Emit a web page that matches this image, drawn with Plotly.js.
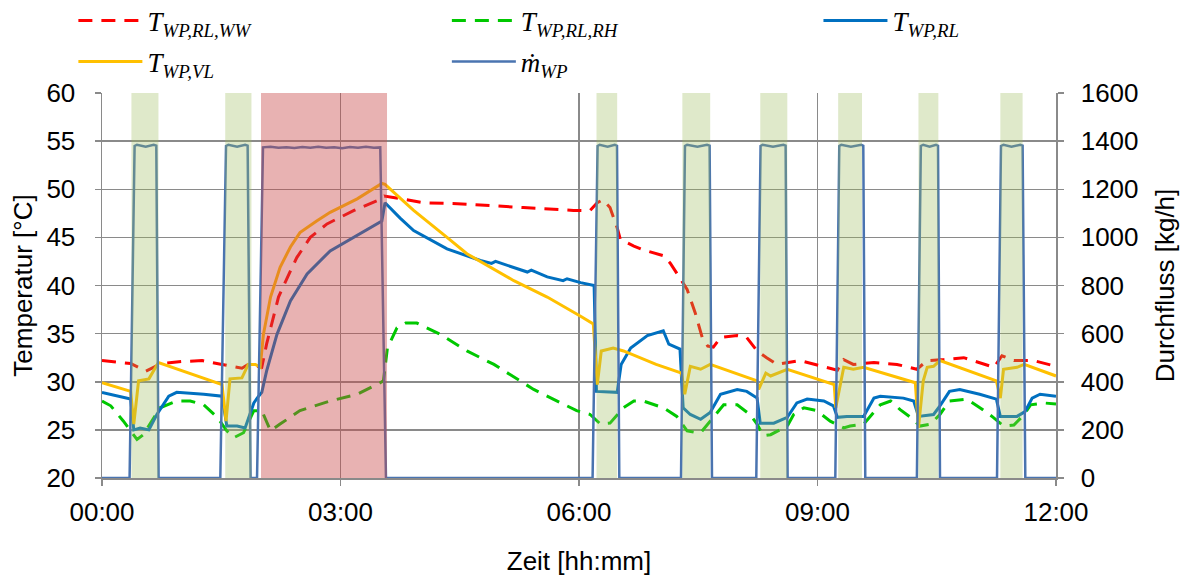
<!DOCTYPE html>
<html>
<head>
<meta charset="utf-8">
<script src="https://cdn.plot.ly/plotly-3.0.1.min.js"></script>
<style>html,body{margin:0;padding:0;background:#fff;}#chart{width:1192px;height:581px;}</style>
</head>
<body>
<div id="chart"></div>
<script>
// ---- Data (time in hours) ----
const tickVals = [0, 3, 6, 9, 12];
const tickText = ['00:00', '03:00', '06:00', '09:00', '12:00'];

// T_WP,RL,WW (red dashed)
const wwT = [0, 0.36, 0.55, 0.75, 1.0, 1.26, 1.51, 1.76, 1.84, 2.01, 2.07, 2.14, 2.22, 2.33, 2.45, 2.62, 2.83, 3.17, 3.46, 3.55, 3.63, 4.05, 4.47, 4.97, 5.30, 5.93, 6.14, 6.23, 6.30, 6.39, 6.48, 6.52, 6.69, 6.81, 7.06, 7.15, 7.25, 7.36, 7.46, 7.55, 7.62, 7.69, 7.78, 7.99, 8.11, 8.24, 8.36, 8.49, 8.78, 9.12, 9.25, 9.33, 9.45, 9.71, 10.0, 10.25, 10.38, 10.59, 10.84, 11.22, 11.32, 11.47, 11.72, 12.0];
const wwV = [32.2, 31.9, 31.1, 31.9, 32.1, 32.2, 31.8, 31.4, 31.8, 31.5, 33.9, 36.3, 38.8, 40.8, 42.9, 45.0, 46.4, 47.8, 48.8, 49.3, 49.2, 48.6, 48.5, 48.3, 48.1, 47.8, 47.8, 48.6, 48.9, 48.1, 46.0, 44.8, 44.1, 43.7, 43.1, 42.3, 41.0, 39.6, 37.2, 34.6, 33.7, 33.6, 34.6, 34.8, 34.6, 33.2, 32.5, 31.8, 32.2, 31.5, 31.2, 32.3, 31.8, 32.0, 31.8, 31.3, 32.2, 32.3, 32.5, 31.5, 32.7, 32.2, 32.2, 31.6];

// T_WP,RL,RH (green dashed)
const rhT = [0, 0.11, 0.27, 0.44, 0.52, 0.62, 0.73, 0.94, 1.11, 1.28, 1.45, 1.57, 1.66, 1.78, 1.91, 2.01, 2.12, 2.24, 2.49, 2.87, 3.21, 3.50, 3.54, 3.59, 3.71, 3.82, 3.96, 4.26, 4.59, 4.93, 5.43, 5.97, 6.14, 6.27, 6.39, 6.56, 6.69, 6.81, 7.06, 7.23, 7.36, 7.48, 7.53, 7.69, 7.82, 7.99, 8.15, 8.24, 8.32, 8.41, 8.62, 8.70, 8.83, 8.99, 9.16, 9.33, 9.41, 9.58, 9.69, 9.79, 9.92, 10.04, 10.17, 10.29, 10.42, 10.54, 10.66, 10.88, 11.08, 11.21, 11.34, 11.47, 11.60, 11.68, 11.84, 12.0];
const rhV = [28.0, 27.5, 25.9, 24.0, 24.5, 25.9, 27.3, 28.0, 28.0, 27.6, 26.3, 24.9, 24.2, 24.7, 27.0, 27.0, 24.9, 25.6, 27.0, 28.0, 28.7, 29.9, 30.1, 33.5, 35.6, 36.1, 36.1, 34.9, 33.2, 31.8, 29.2, 27.0, 26.6, 25.6, 25.7, 27.3, 28.0, 28.0, 27.3, 26.4, 24.9, 24.7, 24.7, 26.3, 27.6, 27.6, 26.6, 25.6, 24.4, 24.5, 25.4, 26.6, 27.3, 27.0, 25.9, 25.2, 25.4, 25.6, 26.6, 27.6, 28.0, 27.1, 26.3, 25.4, 25.6, 26.6, 28.0, 28.2, 27.1, 26.3, 25.4, 25.5, 26.6, 27.6, 27.8, 27.7];

// T_WP,RL (blue solid)
const rlT = [0, 0.36, 0.40, 0.48, 0.59, 0.69, 0.84, 0.94, 1.28, 1.51, 1.57, 1.70, 1.80, 1.91, 1.97, 2.01, 2.07, 2.20, 2.37, 2.58, 2.87, 3.21, 3.52, 3.56, 3.75, 3.92, 4.34, 4.76, 4.90, 4.95, 5.18, 5.35, 5.40, 5.60, 5.80, 5.85, 6.02, 6.19, 6.22, 6.48, 6.53, 6.65, 6.86, 7.06, 7.13, 7.27, 7.31, 7.40, 7.53, 7.65, 7.78, 7.99, 8.11, 8.24, 8.28, 8.45, 8.62, 8.74, 8.87, 9.08, 9.20, 9.25, 9.37, 9.58, 9.71, 9.79, 10.08, 10.21, 10.27, 10.46, 10.54, 10.66, 10.79, 11.04, 11.25, 11.30, 11.51, 11.61, 11.70, 11.80, 12.0];
const rlV = [28.9, 28.2, 25.0, 25.2, 25.0, 26.6, 28.5, 28.9, 28.7, 28.5, 25.4, 25.4, 25.2, 27.8, 28.5, 28.9, 31.1, 34.9, 38.4, 41.2, 43.6, 45.2, 46.7, 48.6, 47.0, 45.7, 43.8, 42.6, 42.3, 42.5, 41.9, 41.4, 41.6, 40.9, 40.5, 40.7, 40.3, 40.0, 29.0, 28.9, 31.8, 33.5, 34.8, 35.3, 33.9, 33.4, 27.3, 26.6, 26.1, 26.8, 28.7, 29.2, 29.0, 28.3, 25.7, 25.7, 26.3, 27.8, 28.2, 28.0, 27.5, 26.3, 26.4, 26.4, 28.3, 28.5, 28.3, 28.0, 26.4, 26.6, 27.5, 29.0, 29.2, 28.7, 28.2, 26.4, 26.4, 26.9, 28.3, 28.7, 28.5];

// T_WP,VL (yellow solid)
const vlT = [0, 0.36, 0.40, 0.46, 0.59, 0.65, 0.71, 1.51, 1.56, 1.61, 1.76, 1.84, 1.93, 1.99, 2.03, 2.12, 2.24, 2.37, 2.49, 2.70, 2.87, 3.21, 3.52, 3.56, 3.92, 4.34, 4.59, 5.18, 5.60, 6.02, 6.18, 6.23, 6.28, 6.43, 6.56, 6.97, 7.29, 7.33, 7.40, 7.53, 7.65, 8.24, 8.26, 8.35, 8.41, 8.62, 9.21, 9.23, 9.33, 9.45, 9.58, 10.23, 10.27, 10.33, 10.38, 10.46, 10.54, 11.25, 11.30, 11.34, 11.51, 11.60, 12.0];
const vlV = [29.9, 29.0, 25.6, 30.1, 30.3, 31.1, 32.0, 29.7, 25.9, 30.3, 30.4, 31.8, 31.8, 31.5, 34.9, 38.8, 41.9, 44.0, 45.5, 46.7, 47.6, 49.0, 50.6, 50.5, 47.8, 45.0, 43.3, 40.5, 38.8, 36.8, 36.0, 29.7, 33.2, 33.5, 33.2, 31.8, 30.9, 28.7, 31.6, 31.3, 31.8, 30.1, 29.2, 30.9, 30.6, 31.3, 29.7, 27.3, 31.5, 31.3, 31.5, 29.9, 25.2, 30.1, 31.5, 31.6, 32.2, 30.1, 28.3, 31.3, 31.5, 31.8, 30.6];

// m_WP (mass flow, kg/h)
const flowT = [0, 0.347, 0.41, 0.44, 0.55, 0.65, 0.683, 0.712,
  1.488, 1.56, 1.59, 1.70, 1.80, 1.832, 1.869,
  1.95, 2.025, 2.12, 2.22, 2.32, 2.42, 2.52, 2.62, 2.72, 2.82, 2.92, 3.02, 3.12, 3.22, 3.32, 3.42, 3.50, 3.572,
  6.171, 6.234, 6.26, 6.36, 6.45, 6.478, 6.507,
  7.283, 7.333, 7.36, 7.49, 7.61, 7.643, 7.673,
  8.23, 8.284, 8.31, 8.44, 8.57, 8.599, 8.624,
  9.224, 9.274, 9.30, 9.42, 9.55, 9.576, 9.601,
  10.25, 10.30, 10.33, 10.41, 10.49, 10.516, 10.541,
  11.258, 11.308, 11.34, 11.44, 11.55, 11.58, 11.614,
  12];
const flowV = [0, 0, 1380, 1385, 1377, 1385, 1381, 0,
  0, 1380, 1385, 1377, 1385, 1381, 0,
  0, 1374, 1377, 1372, 1375, 1371, 1376, 1372, 1377, 1372, 1375, 1370, 1376, 1373, 1377, 1372, 1374, 0,
  0, 1380, 1385, 1377, 1385, 1381, 0,
  0, 1380, 1385, 1377, 1385, 1381, 0,
  0, 1380, 1385, 1377, 1385, 1381, 0,
  0, 1380, 1385, 1377, 1385, 1381, 0,
  0, 1380, 1385, 1377, 1385, 1381, 0,
  0, 1380, 1385, 1377, 1385, 1381, 0,
  0];

// shaded periods
const greenStart = [0.37, 1.55, 6.22, 7.30, 8.28, 9.26, 10.27, 11.30];
const greenEnd   = [0.71, 1.88, 6.48, 7.65, 8.62, 9.56, 10.52, 11.58];
const redStart = [2.00];
const redEnd   = [3.585];

// ---- Plot ----
const legFont = {family: 'Liberation Serif, Times New Roman, serif', size: 27, color: '#000'};
const traces = [
  {x: wwT, y: wwV, name: '<i>T<sub>WP,RL,WW</sub></i>', mode: 'lines', line: {color: '#ff0000', width: 3, dash: '14px,9px'}, legend: 'legend'},
  {x: rhT, y: rhV, name: '<i>T<sub>WP,RL,RH</sub></i>', mode: 'lines', line: {color: '#00c800', width: 3, dash: '14px,9px'}, legend: 'legend2'},
  {x: rlT, y: rlV, name: '<i>T<sub>WP,RL</sub></i>', mode: 'lines', line: {color: '#0070c0', width: 3}, legend: 'legend3'},
  {x: vlT, y: vlV, name: '<i>T<sub>WP,VL</sub></i>', mode: 'lines', line: {color: '#ffc000', width: 3}, legend: 'legend4'},
  {x: flowT, y: flowV, name: '<i>ṁ<sub>WP</sub></i>', mode: 'lines', yaxis: 'y2', line: {color: '#4a74b0', width: 2.5}, legend: 'legend5'}
];

const shapes = [];
for (let i = 0; i < greenStart.length; i++) {
  shapes.push({type: 'rect', xref: 'x', yref: 'paper', x0: greenStart[i], x1: greenEnd[i], y0: 0, y1: 1,
    fillcolor: 'rgba(155,187,89,0.32)', line: {width: 0}, layer: 'above'});
}
for (let i = 0; i < redStart.length; i++) {
  shapes.push({type: 'rect', xref: 'x', yref: 'paper', x0: redStart[i], x1: redEnd[i], y0: 0, y1: 1,
    fillcolor: 'rgba(200,71,71,0.42)', line: {width: 0}, layer: 'above'});
}

const axFont = {family: 'Liberation Sans, Arial, sans-serif', size: 26, color: '#000'};
const gridC = '#8a8a8a';
const legBase = {orientation: 'v', font: legFont, bgcolor: 'rgba(0,0,0,0)', xanchor: 'left', yanchor: 'middle', itemwidth: 64};
const row1 = 1.187, row2 = 1.0805;

const layout = {
  width: 1192, height: 581,
  margin: {l: 102, r: 136, t: 93, b: 103, pad: 0, autoexpand: false},
  paper_bgcolor: '#fff', plot_bgcolor: '#fff',
  showlegend: true,
  legend:  Object.assign({}, legBase, {x: -0.030, y: row1}),
  legend2: Object.assign({}, legBase, {x: 0.3615, y: row1}),
  legend3: Object.assign({}, legBase, {x: 0.751, y: row1}),
  legend4: Object.assign({}, legBase, {x: -0.030, y: row2}),
  legend5: Object.assign({}, legBase, {x: 0.3615, y: row2}),
  xaxis: {
    range: [0, 12], tickvals: tickVals, ticktext: tickText,
    showgrid: true, gridcolor: gridC, gridwidth: 1.5, zeroline: false,
    showline: true, linecolor: gridC, linewidth: 1.5,
    ticks: 'outside', ticklen: 6, tickcolor: gridC, tickwidth: 1.5,
    tickfont: axFont, ticklabelstandoff: 4,
    title: {text: 'Zeit [hh:mm]', font: axFont, standoff: 26}
  },
  yaxis: {
    range: [20, 60], dtick: 5, tick0: 20,
    showgrid: true, gridcolor: gridC, gridwidth: 1.5, zeroline: false,
    showline: true, linecolor: gridC, linewidth: 1.5,
    ticks: 'outside', ticklen: 6, tickcolor: gridC, tickwidth: 1.5,
    tickfont: axFont, ticklabelstandoff: 14,
    title: {text: 'Temperatur [°C]', font: axFont, standoff: 6}
  },
  yaxis2: {
    range: [0, 1600], dtick: 200, tick0: 0, overlaying: 'y', side: 'right',
    showgrid: false, zeroline: false,
    showline: true, linecolor: gridC, linewidth: 1.5,
    ticks: 'outside', ticklen: 6, tickcolor: gridC, tickwidth: 1.5,
    tickfont: axFont, ticklabelstandoff: 12,
    title: {text: 'Durchfluss [kg/h]', font: axFont, standoff: 18}
  },
  shapes: shapes
};

Plotly.newPlot('chart', traces, layout, {displayModeBar: false, staticPlot: true});
</script>
</body>
</html>
